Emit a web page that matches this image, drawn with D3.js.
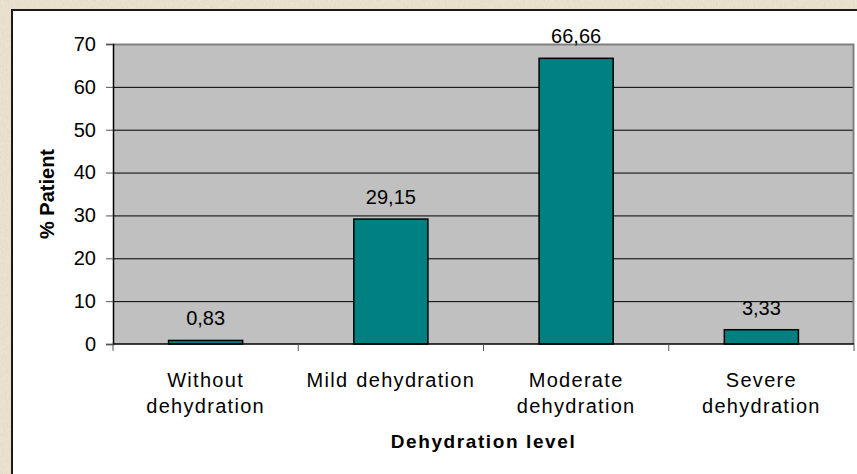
<!DOCTYPE html>
<html>
<head>
<meta charset="utf-8">
<script src="https://cdn.jsdelivr.net/npm/d3@7"></script>
<style>
  html, body { margin: 0; padding: 0; background: #e4dac3; }
  svg { display: block; }
  text { font-family: Arial, "Liberation Sans", sans-serif; fill: #000; }
</style>
</head>
<body>
<script>
var categories = [["Without", "dehydration"], ["Mild dehydration"], ["Moderate", "dehydration"], ["Severe", "dehydration"]];
var values = [0.83, 29.15, 66.66, 3.33];
var valueLabels = ["0,83", "29,15", "66,66", "3,33"];
var yTicks = [0, 10, 20, 30, 40, 50, 60, 70];
var xTitle = "Dehydration level";
var yTitle = "% Patient";

var W = 857, H = 474;
var plot = { left: 113, right: 854, top: 44, bottom: 344 };

var svg = d3.select("body").append("svg")
    .attr("width", W)
    .attr("height", H);

// textured paper background
var defs = svg.append("defs");
var f = defs.append("filter").attr("id", "paper").attr("x", 0).attr("y", 0).attr("width", "100%").attr("height", "100%");
f.append("feTurbulence").attr("type", "fractalNoise").attr("baseFrequency", "0.9 0.35").attr("numOctaves", 3).attr("seed", 4).attr("result", "n");
f.append("feColorMatrix").attr("in", "n").attr("type", "matrix")
    .attr("values", "0 0 0 0 0.72  0 0 0 0 0.66  0 0 0 0 0.54  0 0 0 -1.2 0.8").attr("result", "c");
f.append("feComposite").attr("in", "c").attr("in2", "SourceGraphic").attr("operator", "over");

svg.append("rect").attr("width", W).attr("height", H).attr("fill", "#ebe3cf").attr("filter", "url(#paper)");

// white chart box
svg.append("rect")
    .attr("x", 12).attr("y", 10)
    .attr("width", W).attr("height", H)
    .attr("fill", "#fff")
    .attr("stroke", "#1a1a1a")
    .attr("stroke-width", 2);

var x = d3.scaleBand()
    .domain(d3.range(categories.length))
    .range([plot.left, plot.right]);

var y = d3.scaleLinear()
    .domain([0, 70])
    .range([plot.bottom, plot.top]);

var g = svg.append("g");

// plot background
g.append("rect")
    .attr("x", plot.left).attr("y", plot.top)
    .attr("width", plot.right - plot.left).attr("height", plot.bottom - plot.top)
    .attr("fill", "#c0c0c0");

// gridlines
g.selectAll(".grid")
    .data(yTicks.filter(function (d) { return d > 0 && d < 70; }))
    .enter().append("line")
    .attr("x1", plot.left).attr("x2", plot.right)
    .attr("y1", function (d) { return y(d) + 0.5; })
    .attr("y2", function (d) { return y(d) + 0.5; })
    .attr("stroke", "#000").attr("stroke-width", 1);

// top and right border of plot area
g.append("path")
    .attr("d", "M" + plot.left + "," + (plot.top + 0.5) + "H" + (plot.right - 0.5) + "V" + plot.bottom)
    .attr("fill", "none").attr("stroke", "#808080").attr("stroke-width", 2);

// bars
var bw = x.bandwidth() * 0.4;
g.selectAll(".bar")
    .data(values)
    .enter().append("rect")
    .attr("x", function (d, i) { return x(i) + (x.bandwidth() - bw) / 2; })
    .attr("y", function (d) { return y(d); })
    .attr("width", bw)
    .attr("height", function (d) { return y(0) - y(d); })
    .attr("fill", "#008080")
    .attr("stroke", "#000")
    .attr("stroke-width", 1.5);

// value labels
g.selectAll(".vlab")
    .data(values)
    .enter().append("text")
    .attr("x", function (d, i) { return x(i) + x.bandwidth() / 2; })
    .attr("y", function (d) { return y(d) - 15; })
    .attr("text-anchor", "middle")
    .style("font-size", "20px")
    .text(function (d, i) { return valueLabels[i]; });

// y axis
var yAxis = g.append("g")
    .attr("transform", "translate(" + plot.left + ",0)")
    .call(d3.axisLeft(y).tickValues(yTicks).tickSize(7).tickPadding(10));
yAxis.select(".domain").attr("stroke", "#000").attr("stroke-width", 1.5);
yAxis.selectAll(".tick line").attr("stroke", "#555");
yAxis.selectAll(".tick text")
    .style("font-size", "20px")
    .attr("font-family", null)
    .attr("fill", "#000");

// x axis
var xAxis = g.append("g")
    .attr("transform", "translate(0," + plot.bottom + ")");
xAxis.append("line")
    .attr("x1", plot.left).attr("x2", plot.right)
    .attr("stroke", "#000").attr("stroke-width", 1.5);
xAxis.selectAll(".xt")
    .data(d3.range(categories.length + 1))
    .enter().append("line")
    .attr("x1", function (i) { return i < categories.length ? x(i) : plot.right; })
    .attr("x2", function (i) { return i < categories.length ? x(i) : plot.right; })
    .attr("y1", 0).attr("y2", 7)
    .attr("stroke", "#555");

var labs = xAxis.selectAll(".xl")
    .data(categories)
    .enter().append("text")
    .attr("text-anchor", "middle")
    .style("font-size", "20px")
    .style("letter-spacing", "1.3px")
    .style("word-spacing", "1px");
labs.selectAll("tspan")
    .data(function (d, i) { return d.map(function (s) { return { s: s, i: i }; }); })
    .enter().append("tspan")
    .attr("x", function (d) { return x(d.i) + x.bandwidth() / 2; })
    .attr("y", function (d, j) { return 43 + j * 26; })
    .text(function (d) { return d.s; });

// axis titles
svg.append("text")
    .attr("x", (plot.left + plot.right) / 2)
    .attr("y", 448)
    .attr("text-anchor", "middle")
    .style("font-size", "19px")
    .style("font-weight", "bold")
    .style("letter-spacing", "1.6px")
    .text(xTitle);

svg.append("text")
    .attr("transform", "translate(54," + (plot.top + plot.bottom) / 2 + ") rotate(-90)")
    .attr("text-anchor", "middle")
    .style("font-size", "20px")
    .style("font-weight", "bold")
    .text(yTitle);
</script>
</body>
</html>
